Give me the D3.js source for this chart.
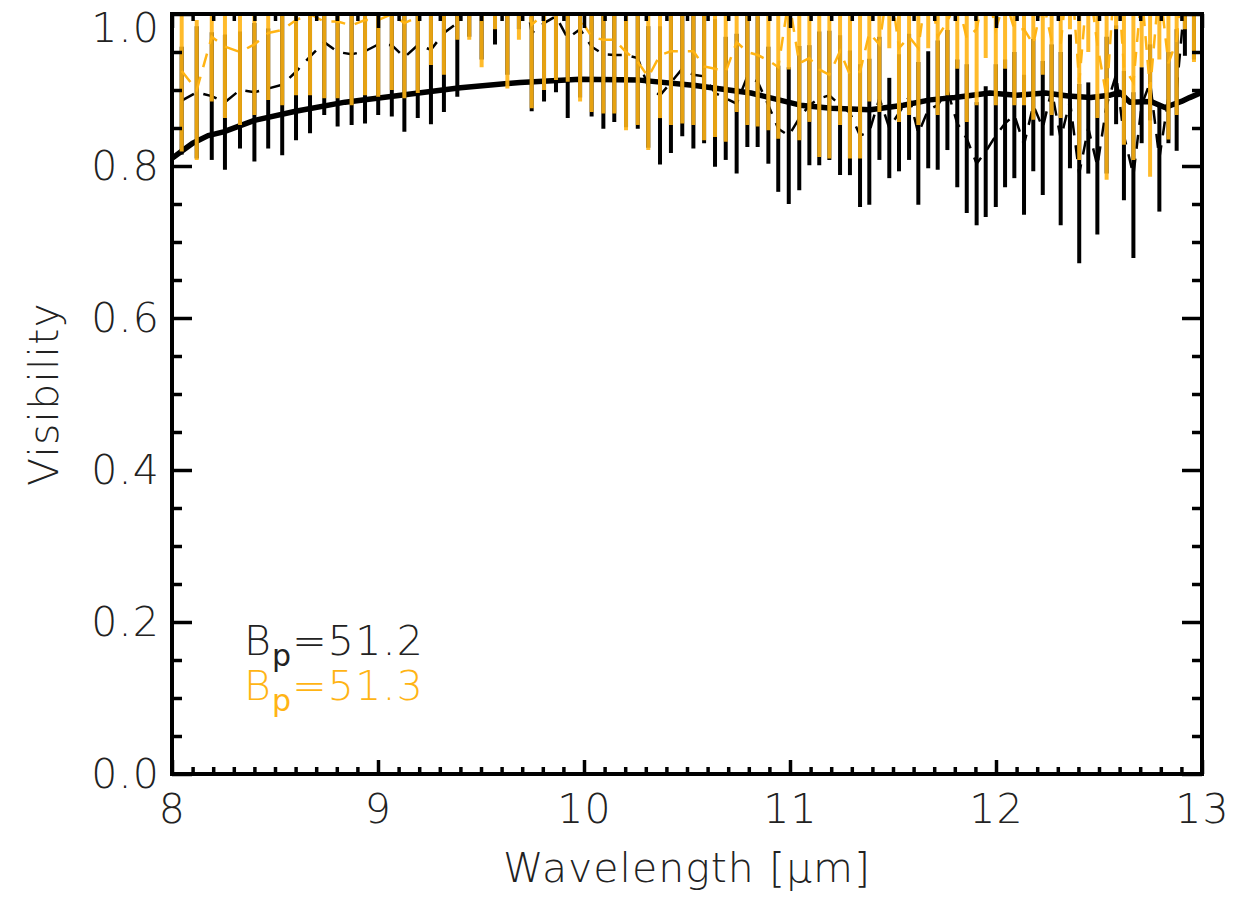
<!DOCTYPE html>
<html>
<head>
<meta charset="utf-8">
<script src="https://cdn.jsdelivr.net/npm/d3@7"></script>
<style>
  body { margin: 0; background: #fff; }
  svg text { font-family: "DejaVu Sans", sans-serif; font-weight: 200; }
</style>
</head>
<body>
<div id="chart"></div>
<script>
// wavelength grid of the spectral channels [um]
const wavelength = [
  8.047, 8.120, 8.193, 8.257, 8.330, 8.400, 8.467, 8.535, 8.602, 8.670, 8.739, 8.804,
  8.872, 8.937, 9.001, 9.067, 9.128, 9.193, 9.257, 9.320, 9.385, 9.443, 9.503, 9.568, 9.628,
  9.684, 9.746, 9.806, 9.864, 9.921, 9.981, 10.037, 10.094, 10.147, 10.204, 10.261, 10.312, 10.369, 10.422, 10.477, 10.531,
  10.583, 10.636, 10.688, 10.741, 10.793, 10.843, 10.895, 10.943, 10.994, 11.045, 11.094, 11.142, 11.191, 11.243, 11.291, 11.340, 11.385,
  11.434, 11.482, 11.529, 11.578, 11.623, 11.671, 11.717, 11.764, 11.812, 11.858, 11.906, 11.950, 11.999, 12.044, 12.089, 12.136, 12.181, 12.227,
  12.270, 12.314, 12.359, 12.404, 12.448, 12.492, 12.537, 12.583, 12.621, 12.667, 12.707, 12.748, 12.793, 12.837, 12.877, 12.917, 12.961, 13.002
];

// B_p = 51.2 (black)
const visA = [
  0.886, 0.897, 0.892, 0.884, 0.900, 0.897, 0.902, 0.907, 0.924, 0.944, 0.963, 0.950,
  0.947, 0.951, 0.960, 0.959, 0.943, 0.959, 0.953, 0.975, 0.988, 1.060, 1.040, 1.060, 1.020,
  1.080, 0.975, 0.988, 0.997, 0.968, 0.980, 0.957, 0.947, 0.946, 0.946, 0.942, 0.904, 0.893, 0.910, 0.928, 0.920,
  0.918, 0.896, 0.889, 0.882, 0.918, 0.911, 0.880, 0.849, 0.840, 0.863, 0.880, 0.889, 0.893, 0.880, 0.870, 0.840, 0.845,
  0.889, 0.850, 0.870, 0.891, 0.843, 0.874, 0.880, 0.900, 0.856, 0.836, 0.803, 0.819, 0.840, 0.856, 0.867, 0.828, 0.880, 0.850,
  0.900, 0.836, 0.885, 0.790, 0.850, 0.800, 0.880, 0.920, 0.840, 0.788, 0.880, 0.910, 0.810, 0.890, 0.900, 1.020, 1.030, 1.000
];
const errA = [
  0.071, 0.087, 0.084, 0.089, 0.077, 0.091, 0.079, 0.093, 0.090, 0.101, 0.096, 0.098,
  0.093, 0.095, 0.093, 0.094, 0.098, 0.096, 0.098, 0.104, 0.097, 0.090, 0.100, 0.100, 0.100,
  0.100, 0.103, 0.103, 0.100, 0.105, 0.090, 0.092, 0.098, 0.088, 0.095, 0.093, 0.080, 0.091, 0.093, 0.089, 0.097,
  0.088, 0.097, 0.081, 0.092, 0.093, 0.086, 0.077, 0.083, 0.090, 0.095, 0.079, 0.088, 0.085, 0.092, 0.082, 0.094, 0.096,
  0.081, 0.066, 0.077, 0.083, 0.094, 0.077, 0.085, 0.079, 0.084, 0.098, 0.081, 0.086, 0.094, 0.084, 0.083, 0.092, 0.087, 0.088,
  0.060, 0.114, 0.088, 0.118, 0.060, 0.090, 0.090, 0.065, 0.085, 0.109, 0.050, 0.050, 0.070, 0.060, 0.080, 0.075, 0.090, 0.090
];

// B_p = 51.3 (orange)
const visB = [
  0.925, 0.900, 0.970, 0.957, 0.950, 0.960, 0.975, 0.979, 0.992, 1.000, 0.990, 0.990,
  0.985, 0.992, 0.992, 1.000, 0.988, 0.996, 1.030, 1.020, 1.060, 1.060, 1.030, 1.080, 1.000,
  1.060, 0.986, 1.000, 1.010, 1.010, 0.994, 0.970, 0.966, 0.966, 0.950, 0.937, 0.917, 0.946, 0.951, 0.951, 0.951,
  0.931, 0.928, 0.924, 0.963, 0.950, 0.946, 0.939, 0.930, 1.020, 0.935, 0.942, 0.927, 0.920, 0.951, 0.920, 0.924, 0.975,
  0.960, 1.050, 0.955, 0.970, 0.955, 1.050, 0.970, 0.990, 1.020, 0.968, 0.980, 1.040, 0.980, 1.020, 0.980, 0.980, 0.960, 1.020,
  0.965, 0.960, 1.080, 0.910, 1.050, 0.960, 0.890, 1.080, 0.930, 0.910, 1.030, 0.900, 1.040, 0.935, 0.965, 1.080, 1.035, 1.000
];
const errB = [
  0.106, 0.092, 0.085, 0.094, 0.096, 0.093, 0.088, 0.099, 0.099, 0.107, 0.101, 0.101,
  0.105, 0.099, 0.101, 0.100, 0.099, 0.100, 0.097, 0.100, 0.094, 0.094, 0.100, 0.100, 0.098,
  0.094, 0.110, 0.100, 0.097, 0.099, 0.109, 0.099, 0.097, 0.097, 0.103, 0.083, 0.096, 0.083, 0.097, 0.095, 0.097,
  0.097, 0.090, 0.092, 0.092, 0.096, 0.094, 0.092, 0.094, 0.093, 0.101, 0.084, 0.115, 0.110, 0.097, 0.110, 0.114, 0.090,
  0.089, 0.095, 0.097, 0.103, 0.101, 0.095, 0.103, 0.097, 0.092, 0.110, 0.100, 0.098, 0.100, 0.092, 0.100, 0.100, 0.099, 0.100,
  0.098, 0.097, 0.100, 0.102, 0.100, 0.097, 0.108, 0.100, 0.102, 0.102, 0.100, 0.114, 0.100, 0.100, 0.098, 0.100, 0.098, 0.093
];

// model visibility
const modelWave = [8.0, 8.05, 8.1, 8.175, 8.25, 8.4, 8.6, 8.84, 9.11, 9.4, 9.69, 9.98, 10.27, 10.54, 10.81, 11.05, 11.2, 11.39,
  11.55, 11.68, 11.8, 11.97, 12.1, 12.24, 12.35, 12.46, 12.55, 12.6, 12.65, 12.75, 12.82, 12.9, 12.94, 13.0];
const modelVis = [0.81, 0.82, 0.83, 0.84, 0.845, 0.86, 0.872, 0.884, 0.893, 0.903, 0.91, 0.914, 0.913, 0.906, 0.896, 0.88, 0.876, 0.874,
  0.88, 0.887, 0.89, 0.896, 0.893, 0.896, 0.892, 0.89, 0.893, 0.897, 0.884, 0.885, 0.877, 0.885, 0.89, 0.897];

const xTicks = [8, 9, 10, 11, 12, 13];
const yTicks = [0.0, 0.2, 0.4, 0.6, 0.8, 1.0];
const legendLabels = ['51.2', '51.3'];

const width = 1258, height = 899;
const margin = {left: 172, right: 56, top: 14, bottom: 125};
const colorA = '#000000', colorB = '#FFB414';
const fontSize = '41px';

const svg = d3.select('#chart').append('svg')
    .attr('width', width)
    .attr('height', height);

const x = d3.scaleLinear().domain([8, 13]).range([margin.left, width - margin.right]);
const y = d3.scaleLinear().domain([0, 1]).range([height - margin.bottom, margin.top]);

svg.append('clipPath').attr('id', 'plotclip')
  .append('rect')
    .attr('x', x(8)).attr('y', y(1))
    .attr('width', x(13) - x(8)).attr('height', y(0) - y(1));

const plot = svg.append('g').attr('clip-path', 'url(#plotclip)');

const dataA = wavelength.map((w, i) => ({w: w, v: visA[i], e: errA[i]}));
const dataB = wavelength.map((w, i) => ({w: w, v: visB[i], e: errB[i]}));

function drawBars(data, color, opacity){
    plot.append('g').selectAll('line')
        .data(data)
        .enter()
        .append('line')
        .attr('x1', d => x(d.w)).attr('x2', d => x(d.w))
        .attr('y1', d => y(d.v - d.e)).attr('y2', d => y(d.v + d.e))
        .attr('stroke', color)
        .attr('stroke-opacity', opacity)
        .attr('stroke-width', 4);
}

let dataLine = d3.line().x(d => x(d.w)).y(d => y(d.v));

drawBars(dataA, colorA, 1);
plot.append('path')
    .attr('d', dataLine(dataA))
    .attr('fill', 'none')
    .attr('stroke', colorA)
    .attr('stroke-width', 2.5)
    .attr('stroke-dasharray', '14,10');

let modelLine = d3.line()
    .x((d, i) => x(modelWave[i]))
    .y(d => y(d));
plot.append('path')
    .attr('d', modelLine(modelVis))
    .attr('fill', 'none')
    .attr('stroke', '#000')
    .attr('stroke-width', 5.5)
    .attr('stroke-linejoin', 'round');

drawBars(dataB, colorB, 0.9);
plot.append('path')
    .attr('d', dataLine(dataB))
    .attr('fill', 'none')
    .attr('stroke', colorB)
    .attr('stroke-width', 2.5)
    .attr('stroke-dasharray', '14,10');

// axes: major + minor ticks on all four sides, pointing inward
const xMinor = d3.range(81, 130).filter(v => v % 10 != 0).map(v => v / 10);
const yMinor = d3.range(1, 20).filter(v => v % 4 != 0).map(v => v / 20);

function addAxis(axis, transform){
    let g = svg.append('g').attr('transform', transform).call(axis);
    g.select('.domain').remove();
    g.selectAll('.tick line').attr('stroke', '#000').attr('stroke-width', 3.5);
    g.selectAll('.tick text')
        .attr('fill', '#222')
        .style('font-size', fontSize)
        .style('letter-spacing', '1.2px');
    return g;
}

const bottomY = y(0), topY = y(1), leftX = x(8), rightX = x(13);

addAxis(d3.axisBottom(x).tickValues(xTicks).tickSizeInner(-14).tickSizeOuter(0).tickPadding(20)
    .tickFormat(d3.format('d')), `translate(0,${bottomY})`);
addAxis(d3.axisBottom(x).tickValues(xMinor).tickSizeInner(-7).tickSizeOuter(0).tickFormat(''), `translate(0,${bottomY})`);
addAxis(d3.axisTop(x).tickValues(xTicks).tickSizeInner(-14).tickSizeOuter(0).tickFormat(''), `translate(0,${topY})`);
addAxis(d3.axisTop(x).tickValues(xMinor).tickSizeInner(-7).tickSizeOuter(0).tickFormat(''), `translate(0,${topY})`);

let yAxisG = addAxis(d3.axisLeft(y).tickValues(yTicks).tickSizeInner(-20).tickSizeOuter(0).tickPadding(12)
    .tickFormat(d3.format('.1f')), `translate(${leftX},0)`);
// keep the top label inside the picture, as in the original
yAxisG.selectAll('.tick text').filter(d => d == 1).attr('dy', '0.66em');
addAxis(d3.axisLeft(y).tickValues(yMinor).tickSizeInner(-10).tickSizeOuter(0).tickFormat(''), `translate(${leftX},0)`);
addAxis(d3.axisRight(y).tickValues(yTicks).tickSizeInner(-20).tickSizeOuter(0).tickFormat(''), `translate(${rightX},0)`);
addAxis(d3.axisRight(y).tickValues(yMinor).tickSizeInner(-10).tickSizeOuter(0).tickFormat(''), `translate(${rightX},0)`);

svg.append('rect')
    .attr('x', leftX).attr('y', topY)
    .attr('width', rightX - leftX).attr('height', bottomY - topY)
    .attr('fill', 'none')
    .attr('stroke', '#000')
    .attr('stroke-width', 4);

// axis titles
svg.append('text')
    .attr('x', (leftX + rightX) / 2)
    .attr('y', 882)
    .attr('text-anchor', 'middle')
    .attr('fill', '#222')
    .style('font-size', fontSize)
    .style('letter-spacing', '1px')
    .text('Wavelength [μm]');

svg.append('text')
    .attr('transform', `translate(58,${(topY + bottomY) / 2}) rotate(-90)`)
    .attr('text-anchor', 'middle')
    .attr('fill', '#222')
    .style('font-size', fontSize)
    .style('letter-spacing', '1.2px')
    .text('Visibility');

// legend
[colorA, colorB].forEach((c, i) => {
    let t = svg.append('text')
        .attr('x', 244)
        .attr('y', 655 + i * 45)
        .attr('fill', i == 0 ? '#222' : c)
        .style('font-size', fontSize)
        .style('letter-spacing', '1.2px');
    t.append('tspan').text('B');
    t.append('tspan').attr('dy', 11).style('font-size', '30px').style('font-weight', 400).text('p');
    t.append('tspan').attr('dy', -11).text('=' + legendLabels[i]);
});
</script>
</body>
</html>
